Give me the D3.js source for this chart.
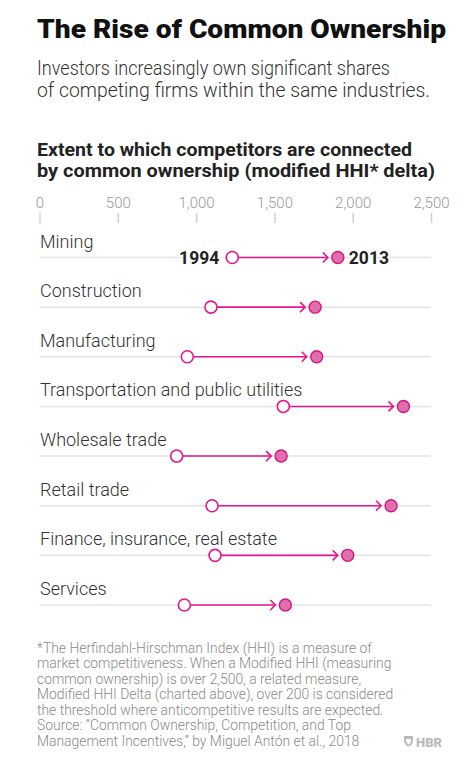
<!DOCTYPE html>
<html>
<head>
<meta charset="utf-8">
<script src="https://cdn.jsdelivr.net/npm/d3@7"></script>
<style>
  body { margin: 0; background: #fff; }
  svg { display: block; }
</style>
</head>
<body>
<svg id="chart"></svg>
<script>
// industries, top to bottom
const industries = ["Mining", "Construction", "Manufacturing", "Transportation and public utilities",
    "Wholesale trade", "Retail trade", "Finance, insurance, real estate", "Services"];
// modified HHI delta
const values1994 = [1231, 1095, 944, 1557, 876, 1102, 1121, 925];
const values2013 = [1905, 1760, 1770, 2324, 1543, 2245, 1968, 1570];
const xTicks = [0, 500, 1000, 1500, 2000, 2500];
const years = ["1994", "2013"];

const subtitleLines = ["Investors increasingly own significant shares",
    "of competing firms within the same industries."];
const subtitleWidths = [353, 393];
const chartTitleLines = ["Extent to which competitors are connected",
    "by common ownership (modified HHI* delta)"];
const chartTitleWidths = [375, 398];
const noteLines = [
    "*The Herfindahl-Hirschman Index (HHI) is a measure of",
    "market competitiveness. When a Modified HHI (measuring",
    "common ownership) is over 2,500, a related measure,",
    "Modified HHI Delta (charted above), over 200 is considered",
    "the threshold where anticompetitive results are expected.",
    "Source: \u201cCommon Ownership, Competition, and Top",
    "Management Incentives,\u201d by Miguel Ant\u00f3n et al., 2018"
];

let width = 469;
let height = 762;
const pink = "#e6168c";
const font = "Roboto, 'Noto Sans', sans-serif";

let svg = d3.select("#chart").attr("width", width).attr("height", height);

// scales
let xScale = d3.scaleLinear().domain([0, 2500]).range([39.5, 431]);
let yScale = d3.scalePoint().domain(industries).range([257.5, 605]);

// headings
svg.append("text")
    .attr("x", 37).attr("y", 38)
    .attr("font-family", font).attr("font-weight", 900).attr("font-size", 25.5)
    .attr("fill", "#111")
    .attr("textLength", 409).attr("lengthAdjust", "spacingAndGlyphs")
    .text("The Rise of Common Ownership");

svg.selectAll(".sub")
    .data(subtitleLines)
    .enter().append("text")
    .attr("class", "sub")
    .attr("x", 37).attr("y", (d, i) => 74.5 + i * 22.5)
    .attr("font-family", font).attr("font-weight", 300).attr("font-size", 20)
    .attr("fill", "#333")
    .attr("textLength", (d, i) => subtitleWidths[i]).attr("lengthAdjust", "spacingAndGlyphs")
    .text(d => d);

svg.selectAll(".ctitle")
    .data(chartTitleLines)
    .enter().append("text")
    .attr("class", "ctitle")
    .attr("x", 37).attr("y", (d, i) => 156 + i * 21)
    .attr("font-family", font).attr("font-weight", 700).attr("font-size", 19)
    .attr("fill", "#222")
    .attr("textLength", (d, i) => chartTitleWidths[i]).attr("lengthAdjust", "spacingAndGlyphs")
    .text(d => d);

// axis on top
let xAxis = d3.axisTop(xScale)
    .tickValues(xTicks)
    .tickSize(10)
    .tickPadding(5)
    .tickFormat(d3.format(","));

let axisG = svg.append("g")
    .attr("transform", "translate(0, 223)")
    .call(xAxis);
axisG.select(".domain").remove();
axisG.selectAll(".tick line").attr("stroke", "#cfcfcf").attr("stroke-width", 1.5);
axisG.selectAll(".tick text")
    .attr("font-family", font).attr("font-weight", 300).attr("font-size", 15)
    .attr("fill", "#999");

// arrow marker
svg.append("defs").append("marker")
    .attr("id", "arrow")
    .attr("viewBox", "-6 -6 12 12")
    .attr("refX", 0).attr("refY", 0)
    .attr("markerWidth", 12).attr("markerHeight", 12)
    .attr("markerUnits", "userSpaceOnUse")
    .attr("orient", "auto")
    .append("path")
    .attr("d", "M-5,-5 L0,0 L-5,5")
    .attr("fill", "none")
    .attr("stroke", pink)
    .attr("stroke-width", 1.6);

let rows = svg.selectAll(".row")
    .data(industries)
    .enter().append("g")
    .attr("class", "row")
    .attr("transform", d => `translate(0, ${yScale(d)})`);

rows.append("line")
    .attr("x1", xScale(0)).attr("x2", xScale(2500))
    .attr("stroke", "#e3e3e3").attr("stroke-width", 1.5);

rows.append("text")
    .attr("x", 40).attr("y", -10)
    .attr("font-family", font).attr("font-weight", 300).attr("font-size", 18)
    .attr("fill", "#333")
    .text(d => d);

const r = 6;
rows.append("line")
    .attr("x1", (d, i) => xScale(values1994[i]) + r)
    .attr("x2", (d, i) => xScale(values2013[i]) - r - 4)
    .attr("stroke", pink).attr("stroke-width", 1.6)
    .attr("marker-end", "url(#arrow)");

rows.append("circle")
    .attr("cx", (d, i) => xScale(values1994[i]))
    .attr("r", r)
    .attr("fill", "#fff").attr("stroke", pink).attr("stroke-width", 1.6);

rows.append("circle")
    .attr("cx", (d, i) => xScale(values2013[i]))
    .attr("r", r)
    .attr("fill", "#e070ad").attr("stroke", "#d4167f").attr("stroke-width", 1.4);

// year labels on the first row
let first = rows.filter((d, i) => i === 0);
first.append("text")
    .attr("x", xScale(values1994[0]) - r - 7).attr("y", 6)
    .attr("text-anchor", "end")
    .attr("font-family", font).attr("font-weight", 700).attr("font-size", 17.5)
    .attr("fill", "#222")
    .attr("stroke", "#fff").attr("stroke-width", 4).attr("paint-order", "stroke")
    .text(years[0]);
first.append("text")
    .attr("x", xScale(values2013[0]) + r + 5).attr("y", 6)
    .attr("font-family", font).attr("font-weight", 700).attr("font-size", 17.5)
    .attr("fill", "#222")
    .attr("stroke", "#fff").attr("stroke-width", 4).attr("paint-order", "stroke")
    .text(years[1]);

// footnote
svg.selectAll(".note")
    .data(noteLines)
    .enter().append("text")
    .attr("class", "note")
    .attr("x", 37).attr("y", (d, i) => 652.5 + i * 15.5)
    .attr("font-family", font).attr("font-weight", 300).attr("font-size", 13.9)
    .attr("fill", "#8a8a8a")
    .text(d => d);

// HBR mark
let logo = svg.append("g").attr("transform", "translate(404, 736)");
logo.append("path")
    .attr("d", "M0,0 H9 V4 Q9,9 4.5,10.5 Q0,9 0,4 Z M2,3 H7 V4.5 Q7,7.5 4.5,8.5 Q2,7.5 2,4.5 Z")
    .attr("fill", "#bbb").attr("fill-rule", "evenodd");
logo.append("text")
    .attr("x", 12).attr("y", 10.5)
    .attr("font-family", font).attr("font-weight", 900).attr("font-size", 13)
    .attr("fill", "#bbb")
    .text("HBR");
</script>
</body>
</html>
